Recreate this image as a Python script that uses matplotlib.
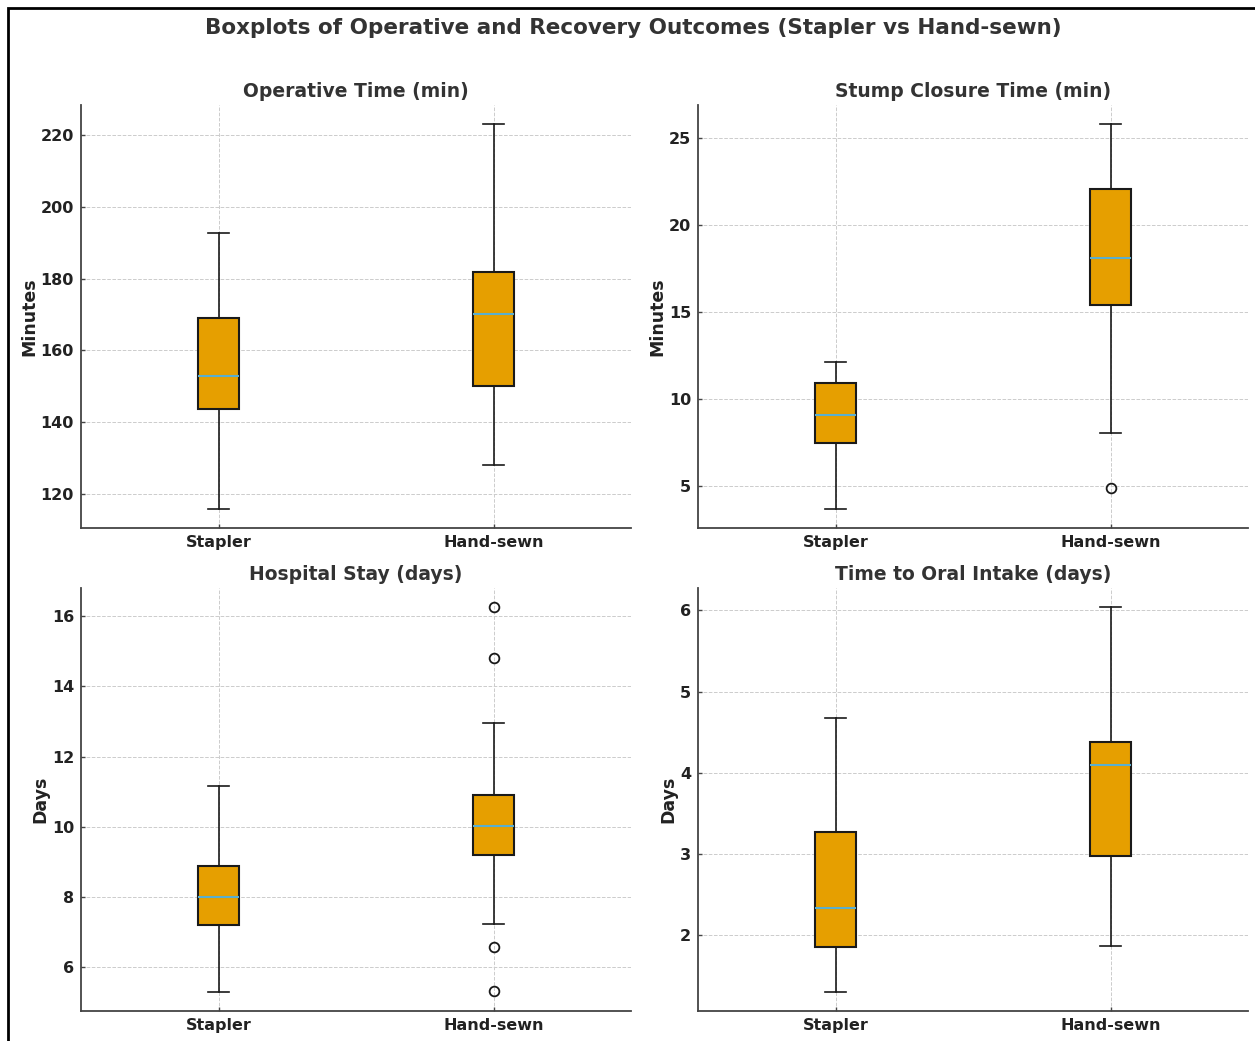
import matplotlib
matplotlib.use("Agg")
import matplotlib.pyplot as plt
from matplotlib.patches import Rectangle

groups = ["Stapler", "Hand-sewn"]
titles = ["Operative Time (min)", "Stump Closure Time (min)",
          "Hospital Stay (days)", "Time to Oral Intake (days)"]
ylabels = ["Minutes", "Minutes", "Days", "Days"]

# [Stapler, Hand-sewn] per panel
whislo = [[115.8, 128.1], [3.68, 8.05], [5.29, 7.21], [1.30, 1.86]]
q1     = [[143.7, 150.1], [7.45, 15.38], [7.20, 9.19], [1.85, 2.97]]
med    = [[152.9, 170.1], [9.08, 18.10], [8.00, 10.02], [2.33, 4.09]]
q3     = [[169.0, 181.8], [10.90, 22.05], [8.88, 10.91], [3.27, 4.38]]
whishi = [[192.7, 223.1], [12.13, 25.80], [11.16, 12.95], [4.67, 6.04]]
fliers = [[[], []], [[], [4.89]], [[], [16.26, 14.81, 6.57, 5.31]], [[], []]]

fig = plt.figure(figsize=(12.55, 10.41), dpi=100)
positions = [
    (81, 105, 631, 528), (698, 105, 1248, 528),
    (81, 588, 631, 1011), (698, 588, 1248, 1011),
]
W, H = 1255, 1041
txt = "#333333"
for i, (l, t, r, b) in enumerate(positions):
    ax = fig.add_axes([l / W, 1 - b / H, (r - l) / W, (b - t) / H])
    stats = []
    for j in range(2):
        stats.append(dict(med=med[i][j], q1=q1[i][j], q3=q3[i][j],
                          whislo=whislo[i][j], whishi=whishi[i][j],
                          fliers=fliers[i][j], label=groups[j]))
    ax.bxp(stats, positions=[1, 2], widths=0.15, patch_artist=True,
           boxprops=dict(facecolor="#E69F00", edgecolor="#1a1a1a", linewidth=1.5),
           medianprops=dict(color="#5AAFD0", linewidth=1.5),
           whiskerprops=dict(color="#1a1a1a", linewidth=1.2),
           capprops=dict(color="#1a1a1a", linewidth=1.2),
           flierprops=dict(marker="o", markerfacecolor="none",
                           markeredgecolor="#1a1a1a", markersize=7, markeredgewidth=1.3))
    ax.set_xlim(0.5, 2.5)
    ax.grid(True, linestyle="--", color="#cccccc", linewidth=0.7)
    ax.set_axisbelow(True)
    for s in ["top", "right"]:
        ax.spines[s].set_visible(False)
    for s in ["left", "bottom"]:
        ax.spines[s].set_color("#444444")
        ax.spines[s].set_linewidth(1.3)
    ax.tick_params(direction="in", length=3, width=1, colors="#444444",
                   labelcolor="#222222", labelsize=11.5, pad=5)
    for lab in ax.get_xticklabels() + ax.get_yticklabels():
        lab.set_fontweight("bold")
    ax.set_title(titles[i], fontsize=13.5, fontweight="bold", color=txt, pad=6)
    ax.set_ylabel(ylabels[i], fontsize=12.5, fontweight="bold", color="#222222", labelpad=2)

fig.suptitle("Boxplots of Operative and Recovery Outcomes (Stapler vs Hand-sewn)",
             fontsize=15.5, fontweight="bold", color=txt, x=633 / W,
             y=1 - 28 / H, va="center")
fig.patches.append(Rectangle((8 / W, -0.1), 1.2, 1 - 8 / H + 0.1,
                             transform=fig.transFigure, fill=False,
                             edgecolor="black", linewidth=2))
fig.savefig("out.png", dpi=100)
